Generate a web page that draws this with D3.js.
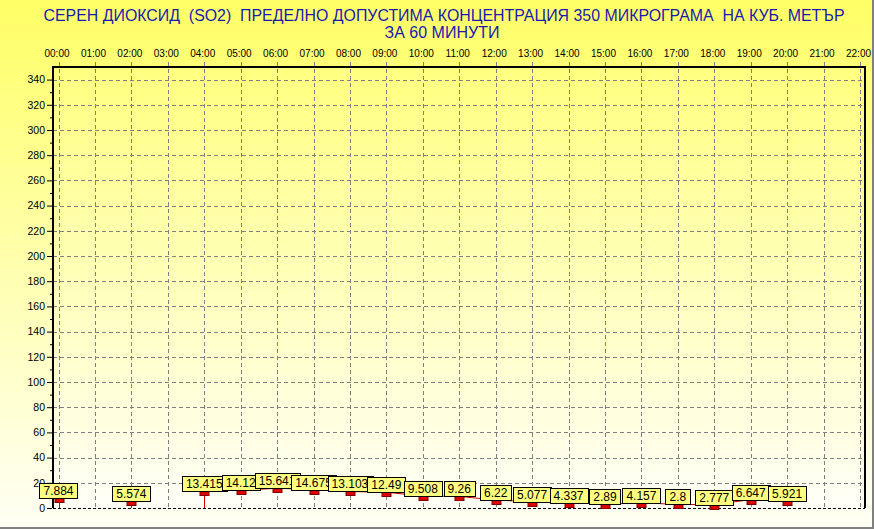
<!DOCTYPE html>
<html><head><meta charset="utf-8">
<script src="https://cdn.jsdelivr.net/npm/d3@7/dist/d3.min.js"></script>
<style>html,body{margin:0;padding:0;background:#fff}svg{display:block}text{font-family:"Liberation Sans",Arial,sans-serif}</style>
</head><body>
<svg id="c" width="874" height="529"></svg>
<script>
const titleLine1 = "СЕРЕН ДИОКСИД  (SO2)  ПРЕДЕЛНО ДОПУСТИМА КОНЦЕНТРАЦИЯ 350 МИКРОГРАМА  НА КУБ. МЕТЪР";
const titleLine2 = "ЗА 60 МИНУТИ";
const hours = ["00:00","01:00","02:00","03:00","04:00","05:00","06:00","07:00","08:00","09:00","10:00","11:00","12:00","13:00","14:00","15:00","16:00","17:00","18:00","19:00","20:00","21:00","22:00"];
const values = [7.884, null, 5.574, null, 13.415, 14.12, 15.641, 14.675, 13.103, 12.49, 9.508, 9.26, 6.22, 5.077, 4.337, 2.89, 4.157, 2.8, 2.777, 6.647, 5.921, null, null];
const yTicks = [0,20,40,60,80,100,120,140,160,180,200,220,240,260,280,300,320,340];

(function(){
const W = 874, H = 529;
const svg = d3.select("#c");
const defs = svg.append("defs");
const g1 = defs.append("linearGradient").attr("id","bgOuter").attr("x1",0).attr("y1",0).attr("x2",0).attr("y2",1);
g1.append("stop").attr("offset","0%").attr("stop-color","#ffff66");
g1.append("stop").attr("offset","100%").attr("stop-color","#fffff6");
const g2 = defs.append("linearGradient").attr("id","bgInner").attr("x1",0).attr("y1",0).attr("x2",0).attr("y2",1);
g2.append("stop").attr("offset","0%").attr("stop-color","#ffff80");
g2.append("stop").attr("offset","100%").attr("stop-color","#fffff8");

svg.append("rect").attr("x",0).attr("y",0).attr("width",W).attr("height",H).attr("fill","url(#bgOuter)");

const pl = 53, pr = 865, pt = 67, pb = 508;
const x = d3.scaleLinear().domain([0, 22]).range([58.5, 860]);
const y = d3.scaleLinear().domain([0, 350]).range([pb, pt]);

svg.append("rect").attr("x",pl).attr("y",pt).attr("width",pr-pl).attr("height",pb-pt).attr("fill","url(#bgInner)");

// grid
const grid = svg.append("g").attr("stroke","#808080").attr("stroke-width",1).attr("stroke-dasharray","4,3").attr("fill","none");
yTicks.filter(t=>t>0).forEach(t=>{
  grid.append("line").attr("x1",pl).attr("x2",pr).attr("y1",Math.round(y(t))+0.5).attr("y2",Math.round(y(t))+0.5);
});
hours.forEach((h,i)=>{
  grid.append("line").attr("x1",Math.round(x(i))+0.5).attr("x2",Math.round(x(i))+0.5).attr("y1",pt-5).attr("y2",pb);
});

// frame
svg.append("line").attr("x1",pl).attr("x2",pr+1).attr("y1",pt).attr("y2",pt).attr("stroke","#000").attr("stroke-width",2);
svg.append("line").attr("x1",pl).attr("x2",pl).attr("y1",pt-1).attr("y2",pb).attr("stroke","#000").attr("stroke-width",2);
svg.append("line").attr("x1",pr).attr("x2",pr).attr("y1",pt-1).attr("y2",pb).attr("stroke","#000").attr("stroke-width",2);
svg.append("line").attr("x1",pl).attr("x2",pr).attr("y1",pb+0.5).attr("y2",pb+0.5).attr("stroke","#000").attr("stroke-width",1).attr("stroke-dasharray","3,2");

// y axis
const yAxis = d3.axisLeft(y).tickValues(yTicks).tickSize(5).tickPadding(2).tickFormat(d3.format("d"));
const ya = svg.append("g").attr("transform",`translate(${pl-1},0)`).call(yAxis);
ya.select(".domain").remove();
ya.selectAll("text").attr("font-size","10.5px").attr("fill","#000").style("font-family","'Liberation Sans',Arial,sans-serif");
const yMinor = d3.axisLeft(y).tickValues(d3.range(10,350,20)).tickSize(2).tickFormat("");
const ym = svg.append("g").attr("transform",`translate(${pl-1},0)`).call(yMinor);
ym.select(".domain").remove();

// x axis (top)
const xAxis = d3.axisTop(x).tickValues(d3.range(0,23)).tickSize(0).tickPadding(10).tickFormat(i=>hours[i]);
const xa = svg.append("g").attr("transform",`translate(-2,${pt})`).call(xAxis);
xa.select(".domain").remove();
xa.selectAll("text").attr("font-size","10px").attr("fill","#000").style("font-family","'Liberation Sans',Arial,sans-serif");

// series line
const pts = values.map((v,i)=>({i,v})).filter(d=>d.v!==null);
const line = d3.line().defined(d=>d.v!==null).x(d=>x(d.i)).y(d=>y(d.v));
svg.append("path").datum(values.map((v,i)=>({i,v}))).attr("d",line).attr("fill","none").attr("stroke","#d40000").attr("stroke-width",1);
pts.filter(d=>d.i===0 || values[d.i-1]===null).forEach(d=>{
  svg.append("line").attr("x1",Math.round(x(d.i))+0.5).attr("x2",Math.round(x(d.i))+0.5).attr("y1",y(d.v)).attr("y2",pb).attr("stroke","#d40000").attr("stroke-width",1);
});
svg.append("g").selectAll("rect").data(pts).join("rect")
  .attr("x",d=>Math.round(x(d.i))-4).attr("y",d=>Math.round(y(d.v))+0.5).attr("width",9).attr("height",4)
  .attr("fill","#dd0000").attr("stroke","#800000").attr("stroke-width",1);

// labels
const lab = svg.append("g");
pts.forEach(d=>{
  const gg = lab.append("g");
  const t = gg.append("text").text(String(d.v)).attr("font-size","12px").attr("fill","#000").attr("text-anchor","middle")
    .attr("x",x(d.i)).attr("y",Math.round(y(d.v))-3);
  const w = t.node().getComputedTextLength() + 8;
  gg.insert("rect","text").attr("x",Math.round(x(d.i)-w/2)+0.5).attr("y",Math.round(y(d.v))-15+0.5).attr("width",Math.round(w)).attr("height",15)
    .attr("fill","#ffff80").attr("stroke","#000").attr("stroke-width",1);
});

// title
svg.append("text").attr("x",444).attr("y",21).attr("text-anchor","middle").attr("font-size","16px").attr("fill","#1a1ab0")
  .style("white-space","pre").attr("textLength",801).attr("lengthAdjust","spacingAndGlyphs").text(titleLine1);
svg.append("text").attr("x",442).attr("y",38).attr("text-anchor","middle").attr("font-size","16px").attr("fill","#1a1ab0")
  .style("white-space","pre").text(titleLine2);

svg.append("line").attr("x1",0).attr("x2",W).attr("y1",H-1).attr("y2",H-1).attr("stroke","#808080").attr("stroke-width",2);
svg.append("line").attr("x1",W-1).attr("x2",W-1).attr("y1",0).attr("y2",H).attr("stroke","#808080").attr("stroke-width",2);
})();
</script>
</body></html>
